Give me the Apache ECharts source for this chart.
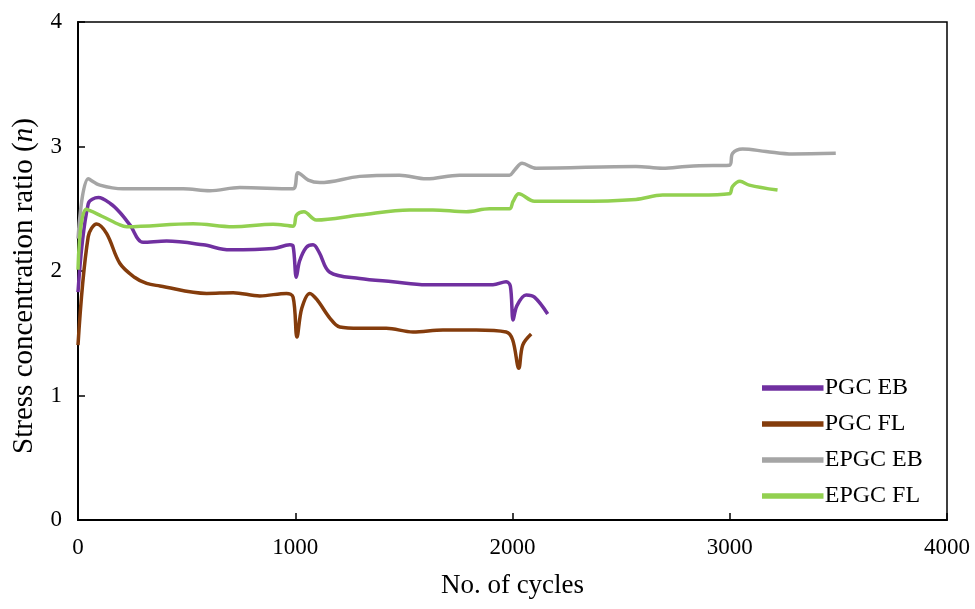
<!DOCTYPE html>
<html>
<head>
<meta charset="utf-8">
<script src="https://cdn.jsdelivr.net/npm/echarts@6/dist/echarts.min.js"></script>
<style>html,body{margin:0;padding:0;background:#fff}#c{width:975px;height:609px}</style>
</head>
<body>
<div id="c"></div>
<script>
const seriesNames = ['PGC EB', 'PGC FL', 'EPGC EB', 'EPGC FL'];
const xTicks = [0, 1000, 2000, 3000, 4000];
const yTicks = [0, 1, 2, 3, 4];

const pgcEB = [[0,1.83],[47,2.54],[94,2.59],[150,2.54],[193,2.47],[239,2.37],[300,2.23],[408,2.24],[576,2.21],[699,2.17],[898,2.18],[975,2.21],[990,2.2],[1005,1.95],[1020,2.08],[1051,2.19],[1082,2.21],[1110,2.15],[1159,1.99],[1297,1.94],[1450,1.914],[1603,1.89],[1800,1.89],[1910,1.89],[1971,1.914],[1990,1.88],[2003,1.606],[2020,1.72],[2063,1.807],[2101,1.79],[2162,1.655]];
const pgcFL = [[0,1.405],[47,2.276],[86,2.378],[132,2.30],[193,2.06],[260,1.95],[316,1.90],[377,1.88],[592,1.82],[714,1.826],[837,1.80],[960,1.82],[990,1.79],[1008,1.47],[1030,1.70],[1067,1.82],[1100,1.77],[1160,1.62],[1205,1.55],[1297,1.54],[1419,1.54],[1542,1.51],[1680,1.526],[1833,1.526],[1971,1.51],[2001,1.446],[2029,1.218],[2047,1.405],[2086,1.494]];
const epgcEB = [[0,2.26],[47,2.74],[101,2.69],[208,2.66],[484,2.66],[607,2.645],[745,2.67],[990,2.66],[1000,2.68],[1013,2.79],[1060,2.73],[1113,2.71],[1297,2.76],[1480,2.77],[1603,2.74],[1756,2.77],[1986,2.77],[2009,2.81],[2044,2.865],[2109,2.825],[2568,2.84],[2691,2.825],[2798,2.84],[2860,2.846],[2998,2.85],[3013,2.945],[3059,2.98],[3167,2.96],[3289,2.94],[3488,2.945]];
const epgcFL = [[0,2.01],[37,2.495],[110,2.44],[193,2.37],[224,2.356],[530,2.38],[714,2.356],[898,2.375],[990,2.36],[1006,2.45],[1040,2.476],[1097,2.41],[1297,2.45],[1526,2.49],[1633,2.49],[1787,2.476],[1894,2.50],[1986,2.50],[2003,2.56],[2029,2.62],[2101,2.56],[2293,2.56],[2568,2.575],[2691,2.61],[2860,2.61],[2998,2.62],[3013,2.68],[3047,2.72],[3090,2.69],[3220,2.65]];

const colors = ['#7030A0', '#843C0C', '#A5A5A5', '#92D050'];
const dataSets = [pgcEB, pgcFL, epgcEB, epgcFL];
const font = 'Liberation Serif';

const chart = echarts.init(document.getElementById('c'), null, {renderer: 'canvas'});
chart.setOption({
  animation: false,
  backgroundColor: '#fff',
  grid: {left: 78, right: 28, top: 22, bottom: 89, outerBoundsMode: 'none', containLabel: false,
         show: true, borderColor: '#000', borderWidth: 1.5, backgroundColor: 'transparent'},
  legend: {
    orient: 'vertical', left: 757, top: 371, itemGap: 12, itemWidth: 58, itemHeight: 18,
    icon: 'path://M0,8 L58,8 L58,10 L0,10 Z',
    textStyle: {fontFamily: font, fontSize: 24, color: '#000', padding: [0,0,0,-2]},
    data: seriesNames.map((n, i) => ({name: n, itemStyle: {color: colors[i], borderColor: colors[i], borderWidth: 3.5}}))
  },
  graphic: [{
    type: 'text', x: 24, y: 286, rotation: Math.PI / 2,
    style: {
      text: 'Stress concentration ratio ({i|n})',
      fontFamily: font, fontSize: 29, fill: '#000', align: 'center', verticalAlign: 'middle',
      rich: {i: {fontFamily: font, fontSize: 29, fontStyle: 'italic', fill: '#000'}}
    }
  }],
  xAxis: {
    type: 'value', min: xTicks[0], max: xTicks[xTicks.length-1], interval: 1000,
    name: 'No. of cycles', nameLocation: 'middle', nameGap: 52,
    nameTextStyle: {fontFamily: font, fontSize: 27, color: '#000'},
    axisLine: {show: true, onZero: false, lineStyle: {color: '#000', width: 2}},
    axisTick: {show: true, inside: true, length: 7, lineStyle: {color: '#000', width: 1.5}},
    axisLabel: {fontFamily: font, fontSize: 23, color: '#000', margin: 16, formatter: v => String(v)},
    splitLine: {show: false}
  },
  yAxis: {
    type: 'value', min: yTicks[0], max: yTicks[yTicks.length-1], interval: 1,
    axisLine: {show: true, lineStyle: {color: '#000', width: 2}},
    axisTick: {show: true, inside: true, length: 7, lineStyle: {color: '#000', width: 1.5}},
    axisLabel: {fontFamily: font, fontSize: 23, color: '#000', margin: 16, formatter: v => String(v)},
    splitLine: {show: false}
  },
  series: seriesNames.map((n, i) => ({
    name: n, type: 'line', data: dataSets[i], showSymbol: false, symbol: 'none',
    smooth: 0.35, lineStyle: {color: colors[i], width: 3.5}, itemStyle: {color: colors[i]}
  }))
});
</script>
</body>
</html>
